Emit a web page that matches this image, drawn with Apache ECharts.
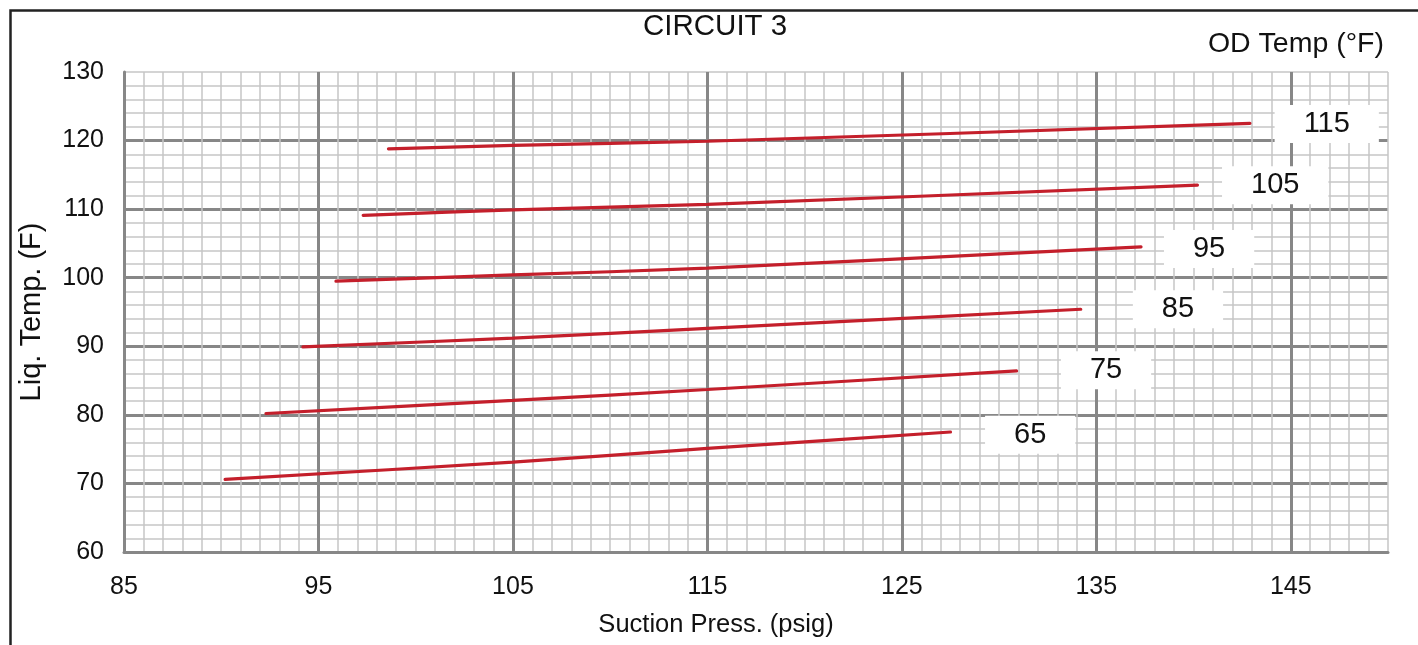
<!DOCTYPE html>
<html>
<head>
<meta charset="utf-8">
<script src="https://cdn.jsdelivr.net/npm/echarts@6/dist/echarts.min.js"></script>
<style>
html,body{margin:0;padding:0;background:#fff;}
#chart{width:1418px;height:645px;}
</style>
</head>
<body>
<div id="chart"></div>
<script>
// OD temperature curves (°F)
var odTemps = ['65', '75', '85', '95', '105', '115'];
// Suction pressure (psig) points for each curve
var suctionX = [
  [90.2, 105, 115, 127.5],
  [92.3, 105, 115, 130.9],
  [94.2, 105, 115, 134.2],
  [95.9, 105, 115, 137.3],
  [97.3, 105, 115, 140.2],
  [98.6, 105, 115, 142.9]
];
// Liquid temperature (F) at those points
var liqTemp = [
  [70.6, 73.1, 75.1, 77.5],
  [80.2, 82.1, 83.7, 86.4],
  [89.9, 91.2, 92.6, 95.4],
  [99.5, 100.4, 101.4, 104.5],
  [109.1, 109.9, 110.7, 113.5],
  [118.8, 119.3, 119.9, 122.5]
];
// label anchor positions in data units (suction press, liq temp)
var labelX = [131.6, 135.5, 139.2, 140.8, 144.2, 146.85];
var labelY = [77.1, 86.5, 95.4, 104.2, 113.5, 122.4];

var FONT = 'Liberation Sans, Arial, sans-serif';
var chart = echarts.init(document.getElementById('chart'), null, {renderer: 'canvas'});

var series = [];
for (var i = 0; i < odTemps.length; i++) {
  var pts = [];
  for (var j = 0; j < suctionX[i].length; j++) pts.push([suctionX[i][j], liqTemp[i][j]]);
  series.push({
    type: 'line', name: odTemps[i], data: pts, smooth: 0.3, showSymbol: false, symbol: 'none',
    xAxisIndex: 1, yAxisIndex: 1,
    lineStyle: {color: '#c41f2b', width: 3.2, cap: 'round'}, z: 5, silent: true
  });
}
var labelData = [];
for (var k = 0; k < odTemps.length; k++) labelData.push({value: [labelX[k], labelY[k]], name: odTemps[k]});
series.push({
  type: 'scatter', data: labelData, symbolSize: 0, z: 10, silent: true,
  xAxisIndex: 1, yAxisIndex: 1,
  itemStyle: {opacity: 1},
  label: {
    show: true, position: 'inside', formatter: '{b}', color: '#111', fontSize: 29, fontFamily: FONT,
    backgroundColor: '#ffffff', padding: [7, 29, 2, 29]
  }
});

var gridLight = {color: '#c6c6c6', width: 1.5};
var gridDark = {color: '#878787', width: 3};

chart.setOption({
  animation: false,
  backgroundColor: '#fff',
  title: {
    text: 'CIRCUIT 3', left: 638, top: 7,
    textStyle: {fontSize: 29.5, fontWeight: 'normal', color: '#111', fontFamily: FONT}
  },
  grid: {left: 124, right: 30, top: 72, bottom: 93, containLabel: false, outerBoundsMode: 'none'},
  xAxis: [{
    // fine grid (every 1 psig)
    type: 'value', position: 'bottom', offset: 0, min: 85, max: 150, interval: 1,
    axisLine: {show: false}, axisTick: {show: false}, axisLabel: {show: false},
    splitLine: {show: true, lineStyle: gridLight}
  }, {
    type: 'value', position: 'bottom', offset: 0, min: 85, max: 150, interval: 10,
    axisLine: {show: true, lineStyle: gridDark},
    axisTick: {show: false},
    axisLabel: {fontSize: 25, color: '#111', fontFamily: FONT, margin: 23, showMaxLabel: false},
    splitLine: {show: true, showMaxLine: false, lineStyle: gridDark},
    name: 'Suction Press. (psig)', nameLocation: 'middle', nameGap: 60,
    nameTextStyle: {fontSize: 25.5, color: '#111', fontFamily: FONT, padding: [0, 80, 0, 0]}
  }],
  yAxis: [{
    // fine grid (every 2 F)
    type: 'value', position: 'left', offset: 0, min: 60, max: 130, interval: 2,
    axisLine: {show: false}, axisTick: {show: false}, axisLabel: {show: false},
    splitLine: {show: true, lineStyle: gridLight}
  }, {
    type: 'value', position: 'left', offset: 0, min: 60, max: 130, interval: 10,
    axisLine: {show: true, lineStyle: gridDark},
    axisTick: {show: false},
    axisLabel: {fontSize: 25, color: '#111', fontFamily: FONT, margin: 20},
    splitLine: {show: true, showMaxLine: false, lineStyle: gridDark},
    name: 'Liq. Temp. (F)', nameLocation: 'middle', nameGap: 78,
    nameTextStyle: {fontSize: 29, color: '#111', fontFamily: FONT}
  }],
  graphic: [
    {type: 'text', right: 34, top: 30, z: 20,
     style: {text: 'OD Temp (°F)', fontSize: 28.5, fill: '#111', fontFamily: FONT}},
    {type: 'rect', left: 8, top: 8, z: 20, silent: true,
     shape: {x: 0, y: 0, width: 1500, height: 800},
     style: {fill: 'none', stroke: '#222', lineWidth: 2.5}}
  ],
  series: series
});
</script>
</body>
</html>
